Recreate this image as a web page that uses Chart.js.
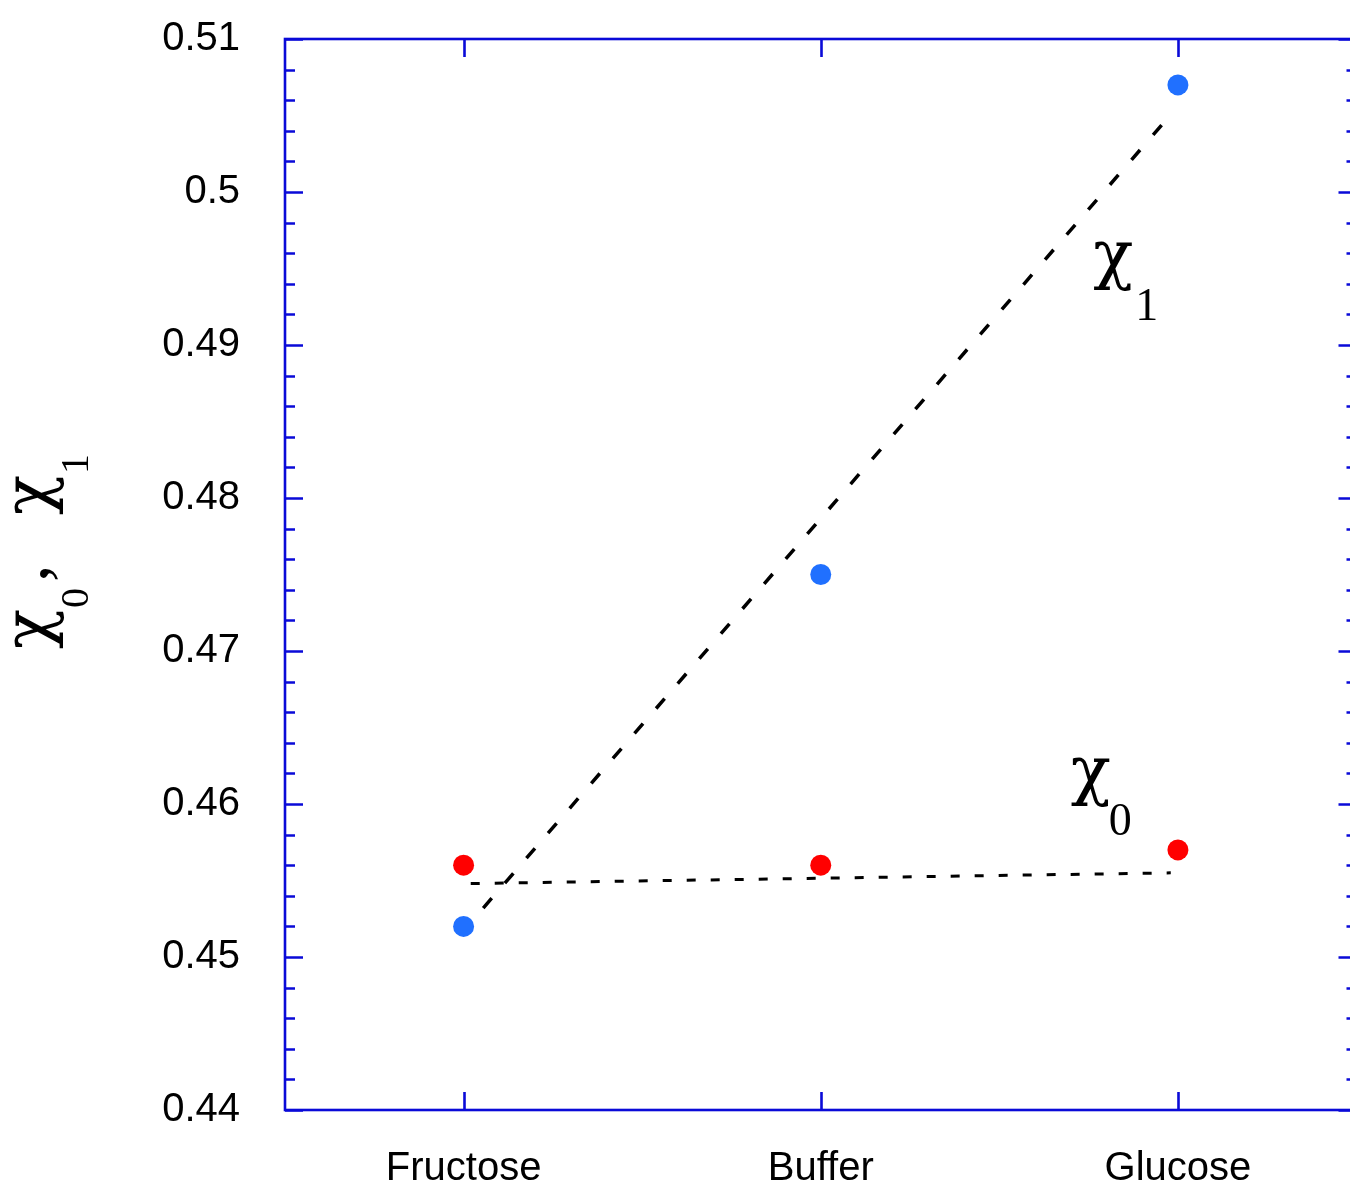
<!DOCTYPE html>
<html>
<head>
<meta charset="utf-8">
<script src="https://cdn.jsdelivr.net/npm/chart.js@4.4.1/dist/chart.umd.min.js"></script>
<style>
  html, body { margin: 0; padding: 0; overflow: hidden; background: #fff; }
  #wrap { position: absolute; left: 0; top: 0; width: 1367px; height: 1191px; }
</style>
</head>
<body>
<div id="wrap"><canvas id="chi-graph" width="1367" height="1191"></canvas></div>
<script>
const categories = ["Fructose", "Buffer", "Glucose"];
const chi1Values = [0.452, 0.475, 0.507];
const chi0Values = [0.456, 0.456, 0.457];

// dashed trend lines, start and end
const chi1FitX = [0.055, 1.985];
const chi1FitY = [0.4532, 0.5052];
const chi0FitX = [0.02, 1.98];
const chi0FitY = [0.4548, 0.4555];

const yMin = 0.44;
const yMax = 0.51;
const yMinorStep = 0.002;

const axisBlue = "#0a0ad8";

function toPoints(xs, ys) {
  return xs.map((x, i) => ({ x: x, y: ys[i] }));
}

function isMajor(value) {
  return Math.round(value * 1000) % 10 === 0;
}

// frame, inward ticks, axis title and the two series labels
const decorations = {
  id: "decorations",
  afterDraw(chart) {
    const ctx = chart.ctx;
    const area = chart.chartArea;
    const xScale = chart.scales.x;
    const yScale = chart.scales.y;

    ctx.save();
    ctx.strokeStyle = axisBlue;
    ctx.lineWidth = 2.6;
    ctx.strokeRect(area.left, area.top, area.right - area.left, area.bottom - area.top);

    ctx.beginPath();
    yScale.ticks.forEach((tick) => {
      const py = Math.round(yScale.getPixelForValue(tick.value)) + 0.5;
      const len = isMajor(tick.value) ? 18 : 10;
      ctx.moveTo(area.left, py);
      ctx.lineTo(area.left + len, py);
      ctx.moveTo(area.right, py);
      ctx.lineTo(area.right - len, py);
    });
    xScale.ticks.forEach((tick) => {
      const px = Math.round(xScale.getPixelForValue(tick.value)) + 0.5;
      ctx.moveTo(px, area.bottom);
      ctx.lineTo(px, area.bottom - 18);
      ctx.moveTo(px, area.top);
      ctx.lineTo(px, area.top + 18);
    });
    ctx.stroke();
    ctx.restore();

    const chiFont = '66px "DejaVu Serif"';
    const commaFont = '70px "Liberation Serif"';
    const subFont = '40px "Liberation Serif"';
    const annoSubFont = '46px "Liberation Serif"';

    ctx.save();
    ctx.fillStyle = "#000";
    ctx.textBaseline = "alphabetic";
    ctx.textAlign = "left";

    // y axis title, rotated: χ0, χ1
    ctx.save();
    ctx.translate(49, 649);
    ctx.rotate(-Math.PI / 2);
    ctx.font = chiFont;
    ctx.fillText("\u03C7", 0, 0);
    ctx.fillText("\u03C7", 134, 0);
    ctx.font = commaFont;
    ctx.fillText(",", 67, -2);
    ctx.font = subFont;
    ctx.fillText("0", 41, 39);
    ctx.fillText("1", 175, 39);
    ctx.restore();

    // series labels next to the trend lines
    const chi1X = xScale.getPixelForValue(1.763);
    const chi1Y = yScale.getPixelForValue(0.4945);
    ctx.font = chiFont;
    ctx.fillText("\u03C7", chi1X, chi1Y);
    ctx.font = annoSubFont;
    ctx.fillText("1", chi1X + 42, chi1Y + 44);

    const chi0X = xScale.getPixelForValue(1.70);
    const chi0Y = yScale.getPixelForValue(0.4608);
    ctx.font = chiFont;
    ctx.fillText("\u03C7", chi0X, chi0Y);
    ctx.font = annoSubFont;
    ctx.fillText("0", chi0X + 38, chi0Y + 43);
    ctx.restore();
  },
};

new Chart(document.getElementById("chi-graph"), {
  type: "scatter",
  data: {
    datasets: [
      {
        label: "chi1 fit",
        data: toPoints(chi1FitX, chi1FitY),
        showLine: true,
        borderColor: "#000",
        borderWidth: 3.5,
        borderDash: [13, 20],
        pointRadius: 0,
      },
      {
        label: "chi0 fit",
        data: toPoints(chi0FitX, chi0FitY),
        showLine: true,
        borderColor: "#000",
        borderWidth: 3,
        borderDash: [9, 15],
        pointRadius: 0,
      },
      {
        label: "chi1",
        data: chi1Values.map((v, i) => ({ x: i, y: v })),
        pointRadius: 10.5,
        pointBorderWidth: 0,
        backgroundColor: "#2070ff",
        borderColor: "#2070ff",
      },
      {
        label: "chi0",
        data: chi0Values.map((v, i) => ({ x: i, y: v })),
        pointRadius: 10.5,
        pointBorderWidth: 0,
        backgroundColor: "#ff0000",
        borderColor: "#ff0000",
      },
    ],
  },
  options: {
    responsive: false,
    animation: false,
    layout: { padding: { top: 39, right: 4.5, left: 0, bottom: 0 } },
    plugins: {
      legend: { display: false },
      tooltip: { enabled: false },
    },
    scales: {
      x: {
        type: "linear",
        min: -0.5,
        max: 2.5,
        afterBuildTicks: (scale) => {
          scale.ticks = categories.map((c, i) => ({ value: i }));
        },
        afterFit: (scale) => {
          scale.height = 81;
          scale.paddingLeft = 0;
          scale.paddingRight = 0;
        },
        grid: { display: false, drawTicks: false },
        border: { display: false },
        ticks: {
          padding: 35,
          color: "#000",
          font: { family: "Liberation Sans", size: 40 },
          callback: (value) => categories[value],
        },
      },
      y: {
        min: yMin,
        max: yMax,
        afterFit: (scale) => {
          scale.width = 285;
          scale.paddingTop = 0;
          scale.paddingBottom = 0;
        },
        grid: { display: false, drawTicks: false },
        border: { display: false },
        ticks: {
          stepSize: yMinorStep,
          autoSkip: false,
          padding: 45,
          color: "#000",
          font: { family: "Liberation Sans", size: 40 },
          callback: (value) =>
            isMajor(value) ? String(Math.round(value * 100) / 100) : "",
        },
      },
    },
  },
  plugins: [decorations],
});
</script>
</body>
</html>
